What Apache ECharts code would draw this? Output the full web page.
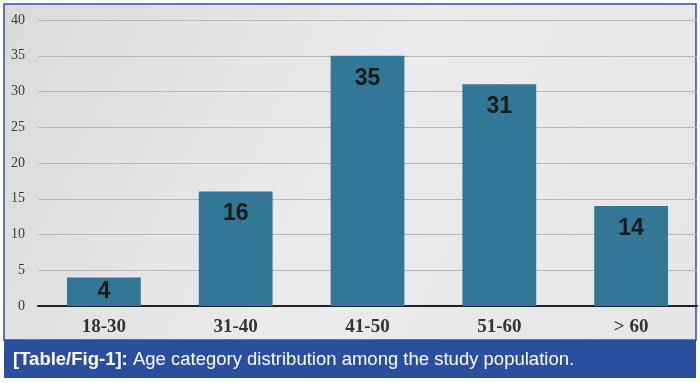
<!DOCTYPE html>
<html><head><meta charset="utf-8">
<style>html,body{margin:0;padding:0;background:#fff;}#c{width:700px;height:383px;}</style>
<script src="https://cdn.jsdelivr.net/npm/echarts@6/dist/echarts.min.js"></script>
</head><body><div id="c"></div>
<script>
const categories = ['18-30', '31-40', '41-50', '51-60', '> 60'];
const values = [4, 16, 35, 31, 14];
const yTicks = [0, 5, 10, 15, 20, 25, 30, 35, 40];
const captionBold = '[Table/Fig-1]:';
const captionText = ' Age category distribution among the study population.';

const chart = echarts.init(document.getElementById('c'));
chart.setOption({
  animation: false,
  graphic: [
    { type: 'rect', z: -10, shape: { x: 4, y: 4, width: 692, height: 336 },
      style: { fill: new echarts.graphic.LinearGradient(0, 0, 1, 1, [
        { offset: 0, color: '#dadada' }, { offset: 0.5, color: '#ebebeb' }, { offset: 1, color: '#e6e6e6' }]),
        stroke: '#2c4f9c', lineWidth: 1.5 } },
    { type: 'rect', z: 10, shape: { x: 4, y: 340, width: 692, height: 38 },
      style: { fill: '#2a4f9f' } },
    { type: 'text', z: 11, left: 13, top: 350,
      style: { text: '{b|' + captionBold + '}{n|' + captionText + '}',
        rich: {
          b: { fontFamily: 'Liberation Sans, Arial', fontWeight: 'bold', fontSize: 18.5, fill: '#fff' },
          n: { fontFamily: 'Liberation Sans, Arial', fontSize: 18.5, fill: '#fff' }
        } } }
  ],
  grid: { left: 38, right: 3, top: 20, bottom: 77, containLabel: false },
  xAxis: {
    type: 'category', data: categories,
    axisLine: { lineStyle: { color: '#222', width: 2 } },
    axisTick: { show: false },
    axisLabel: { fontFamily: 'Liberation Serif, Times New Roman', fontWeight: 'bold', fontSize: 19, color: '#333', margin: 12 }
  },
  yAxis: {
    type: 'value', min: yTicks[0], max: yTicks[yTicks.length - 1], interval: 5,
    axisLine: { show: false }, axisTick: { show: false },
    axisLabel: { fontFamily: 'Liberation Serif, Times New Roman', fontSize: 14, color: '#3a3a3a', margin: 13 },
    splitLine: { lineStyle: { color: '#b8b8b8', width: 1 } }
  },
  series: [{
    type: 'bar', barWidth: '56%',
    data: values.map(v => v < 8 ? { value: v, label: { position: 'inside' } } : v),
    itemStyle: { color: '#327896' },
    label: { show: true, position: 'insideTop', distance: 11,
      fontFamily: 'Liberation Sans, Arial', fontWeight: 'bold', fontSize: 23, color: '#1a1a1a' }
  }]
});
</script></body></html>
